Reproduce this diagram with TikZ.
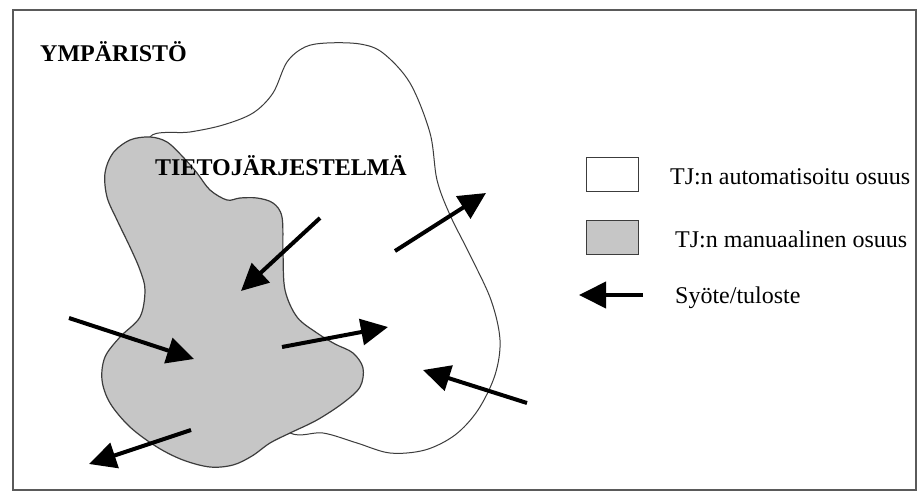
\documentclass[tikz,border=0pt]{standalone}
\usepackage{fontspec}
\setmainfont{Liberation Serif}
\usetikzlibrary{arrows.meta}

\definecolor{manual}{RGB}{198,198,198}
\definecolor{edge}{RGB}{60,60,60}
\definecolor{framegray}{RGB}{90,90,90}

\tikzset{
  label/.style={inner sep=0pt, anchor=base west, font=\fontsize{24}{28}\selectfont},
  title/.style={label, font=\fontsize{24}{28}\selectfont\bfseries},
  flow/.style={line width=4pt, -{Triangle[length=27pt,width=26pt]}},
  keybox/.style={draw=edge, line width=1pt, minimum width=52pt, minimum height=34pt, inner sep=0pt},
  autoarea/.style={fill=white, draw=edge, line width=1pt},
  manualarea/.style={fill=manual, draw=edge, line width=1.2pt},
}

\begin{document}
\begin{tikzpicture}[x=1pt, y=-1pt]
  \useasboundingbox (0,0) rectangle (917,492);
  \fill[white] (0,0) rectangle (917,492);

  % outer frame of the environment
  \draw[framegray, line width=1.5pt] (13,10) rectangle (916,490);

  % automated part of the information system
  \draw[autoarea] plot[smooth cycle, tension=0.55] coordinates {
    (150,137) (190,132) (223,125) (253,113) (273,93) (287,62) (305,47)
    (327,43) (360,44) (383,53) (410,83) (430,133) (437,180) (450,215)
    (470,255) (491,300) (500,340) (495,375) (478,410) (455,435) (425,450)
    (390,453) (357,443) (323,433) (290,433) (250,400) (200,300) (160,180)};

  % manual part of the information system
  \draw[manualarea] plot[smooth cycle, tension=0.55] coordinates {
    (150,137) (167,142) (183,157) (197,173) (210,190) (227,200) (240,198)
    (257,198) (273,203) (282,217) (283,253) (285,290) (297,317) (317,333)
    (335,344) (353,353) (363,368) (360,387) (343,403) (317,420) (290,433)
    (270,443) (252,456) (233,465) (210,467) (183,460) (157,447) (130,427)
    (110,403) (102,380) (105,357) (120,337) (140,317) (145,290) (140,270)
    (130,247) (117,220) (107,197) (105,173) (113,153) (130,140)};

  % labels
  \node[title] (env) at (40,62) {YMPÄRISTÖ};
  \node[title] (sys) at (155,175) {TIETOJÄRJESTELMÄ};

  % inputs and outputs
  \coordinate (t1) at (395,251); \coordinate (h1) at (486,193);
  \coordinate (t2) at (320,218); \coordinate (h2) at (241,291);
  \coordinate (t3) at (69,318);  \coordinate (h3) at (194,359);
  \coordinate (t4) at (282,347); \coordinate (h4) at (388,327);
  \coordinate (t5) at (527,403); \coordinate (h5) at (423,370);
  \coordinate (t6) at (191,430); \coordinate (h6) at (89,464);
  \foreach \i in {1,...,6} \draw[flow] (t\i) -- (h\i);

  % legend
  \node[keybox, fill=white] (autokey) at (612,174) {};
  \node[keybox, fill=manual] (mankey) at (612,237) {};
  \coordinate (keytail) at (643,295);
  \coordinate (keytip) at (579,295);
  \draw[flow] (keytail) -- (keytip);

  \node[label] (autotext) at (670,184) {TJ:n automatisoitu osuus};
  \node[label] (mantext) at (675,247) {TJ:n manuaalinen osuus};
  \node[label] (iotext) at (675,303) {Syöte/tuloste};
\end{tikzpicture}
\end{document}
